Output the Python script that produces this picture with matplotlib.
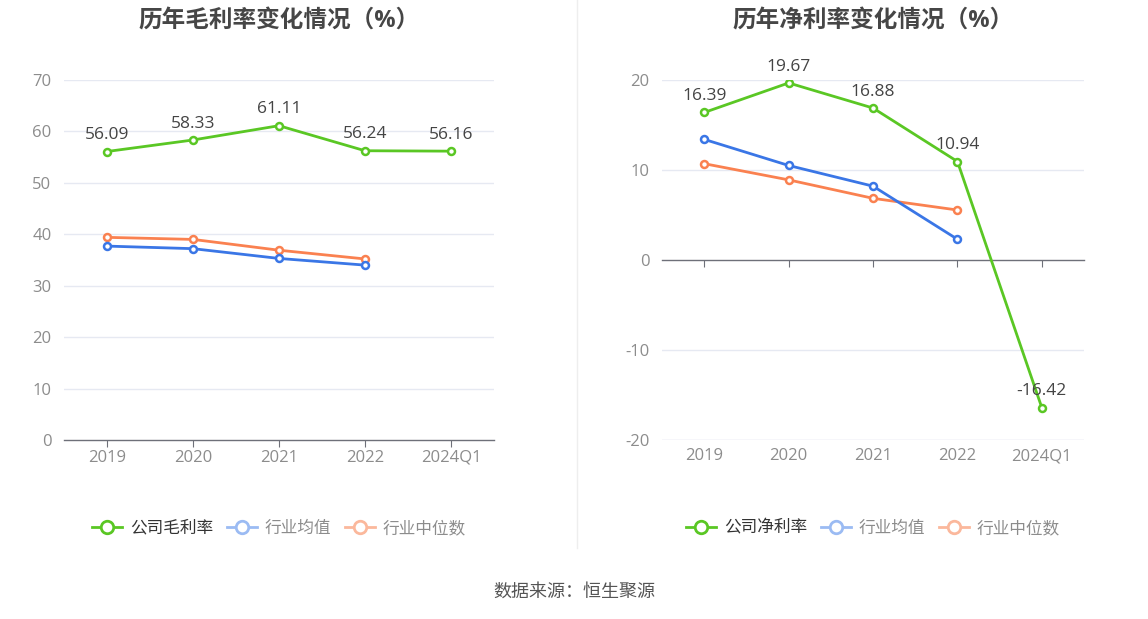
import matplotlib
matplotlib.use("Agg")
import matplotlib.pyplot as plt
from matplotlib.lines import Line2D

plt.rcParams['font.family'] = ['Open Sans', 'Noto Sans CJK SC', 'DejaVu Sans']

years = ['2019', '2020', '2021', '2022', '2024Q1']

# gross margin (%)
gross_company = [56.09, 58.33, 61.11, 56.24, 56.16]
gross_mean = [37.7, 37.2, 35.3, 34.0]
gross_median = [39.4, 39.0, 36.9, 35.2]

# net margin (%)
net_company = [16.39, 19.67, 16.88, 10.94, -16.42]
net_mean = [13.4, 10.5, 8.2, 2.3]
net_median = [10.7, 8.9, 6.85, 5.55]

green = '#5AC724'
blue = '#3A76E6'
orange = '#FA8150'
blue_faded = '#9BBBF3'
orange_faded = '#FBB89C'
grid_c = '#E6E9F2'
axis_c = '#6E7079'
tick_c = '#8C8C8C'

fig = plt.figure(figsize=(11.48, 6.19), dpi=100)
fig.patch.set_facecolor('white')

ax1 = fig.add_axes([0.0557, 0.2892, 0.3746, 0.5816])
ax2 = fig.add_axes([0.5767, 0.2892, 0.3676, 0.5816])


def draw(ax, company, mean, median, ylim, yticks, title, name, zero_axis):
    x_all = list(range(len(years)))
    x_ind = x_all[:len(mean)]
    mk = dict(marker='o', markersize=5, markerfacecolor='white', markeredgewidth=1.8)
    ax.plot(x_ind, median, color=orange, lw=2, zorder=3, **mk)
    ax.plot(x_ind, mean, color=blue, lw=2, zorder=4, **mk)
    ax.plot(x_all, company, color=green, lw=2, zorder=5, **mk)
    for xi, v in zip(x_all, company):
        ax.annotate(f'{v:.2f}', (xi, v), xytext=(0, 6), textcoords='offset points',
                    ha='center', va='bottom', fontsize=12.5, color='#444444', zorder=6)

    ax.set_xlim(-0.5, len(years) - 0.5)
    ax.set_ylim(*ylim)
    ax.set_yticks(yticks)
    ax.set_yticklabels([str(t) for t in yticks])
    for t in yticks:
        if t != 0:
            ax.axhline(t, color=grid_c, lw=1, zorder=1)
    for s in ['top', 'right', 'left']:
        ax.spines[s].set_visible(False)
    ax.spines['bottom'].set_color(axis_c)
    ax.spines['bottom'].set_linewidth(1)
    ax.tick_params(axis='y', length=0, labelsize=12, labelcolor=tick_c, pad=9)
    ax.set_xticks(x_all)
    if zero_axis:
        ax.axhline(ylim[0], color=grid_c, lw=1, zorder=1)
        ax.spines['bottom'].set_position(('data', 0))
        ax.tick_params(axis='x', length=5, color=axis_c, labelbottom=False)
        sec = ax.secondary_xaxis('bottom')
        sec.set_xticks(x_all)
        sec.set_xticklabels(years)
        sec.spines['bottom'].set_visible(False)
        sec.tick_params(axis='x', length=0, labelsize=12, labelcolor=tick_c, pad=6)
    else:
        ax.set_xticklabels(years)
        ax.tick_params(axis='x', length=5, color=axis_c, labelsize=12,
                       labelcolor=tick_c, pad=2)
    ax.set_title(title, fontsize=17, fontweight='bold', color='#464646', pad=38)

    handles = [
        Line2D([], [], color=green, lw=2, marker='o', markersize=9,
               markerfacecolor='white', markeredgewidth=2),
        Line2D([], [], color=blue_faded, lw=2, marker='o', markersize=9,
               markerfacecolor='white', markeredgewidth=2),
        Line2D([], [], color=orange_faded, lw=2, marker='o', markersize=9,
               markerfacecolor='white', markeredgewidth=2),
    ]
    leg = ax.legend(handles, [name, '行业均值', '行业中位数'], loc='center',
                    bbox_to_anchor=(0.5, -0.247), ncol=3, frameon=False,
                    fontsize=12, handlelength=1.8, columnspacing=0.85, handletextpad=0.45)
    cols = ['#333333', tick_c, tick_c]
    for txt, c in zip(leg.get_texts(), cols):
        txt.set_color(c)


draw(ax1, gross_company, gross_mean, gross_median, (0, 70), list(range(0, 71, 10)),
     '历年毛利率变化情况（%）', '公司毛利率', False)
draw(ax2, net_company, net_mean, net_median, (-20, 20), [-20, -10, 0, 10, 20],
     '历年净利率变化情况（%）', '公司净利率', True)

fig.add_artist(Line2D([0.5026, 0.5026], [0.115, 1.0], color='#EEEEEE', lw=1))
fig.text(0.5, 0.0436, '数据来源：恒生聚源', ha='center', va='center',
         fontsize=13, color='#555555')

fig.savefig('out.png', dpi=100, facecolor='white')
